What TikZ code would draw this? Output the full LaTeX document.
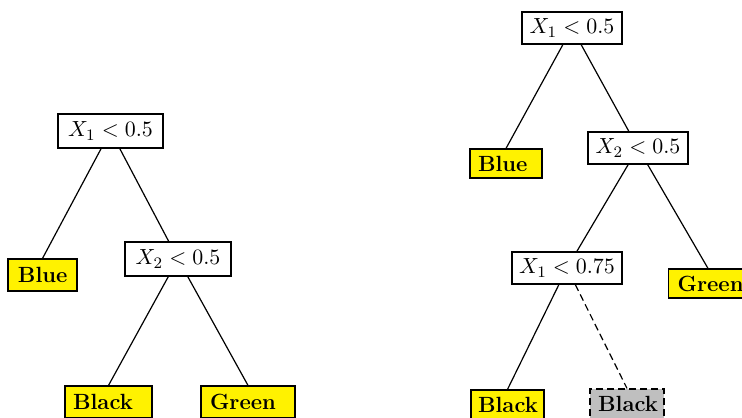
\documentclass[tikz,border=0pt]{standalone}
\usetikzlibrary{calc}
\begin{document}
\begin{tikzpicture}[x=0.5pt,y=-0.5pt,
  every node/.style={font=\fontsize{11}{13}\selectfont},
  split/.style={draw,line width=0.6pt,fill=white,inner xsep=0pt,inner ysep=0pt},
  leaf/.style={draw,line width=0.6pt,fill=yellow,inner ysep=0pt,align=left,font=\fontsize{11}{13}\selectfont\bfseries},
  ghost/.style={leaf,fill=gray!50,dashed,dash pattern=on 3.5pt off 2pt},
  edge/.style={line width=0.6pt}]
\clip (0,0) rectangle (742,417);
\useasboundingbox (0,0) rectangle (742,417);
% left tree
\node[split,minimum width=52.5pt,minimum height=17pt] (L1) at (110.5,131) {$X_1<0.5$};
\node[leaf,inner xsep=5pt,text width=24.5pt,minimum height=16pt] (Lblue) at (42.5,275) {Blue};
\node[split,minimum width=53pt,minimum height=17pt] (L2) at (178,259) {$X_2<0.5$};
\node[leaf,inner xsep=4pt,text width=35.5pt,minimum height=16pt] (Lblack) at (108.5,402) {Black};
\node[leaf,inner xsep=4.5pt,text width=38pt,minimum height=16pt] (Lgreen) at (248,402) {Green};
\draw[edge] (L1) -- (Lblue.north);
\draw[edge] (L1) -- (L2);
\draw[edge] (L2) -- (Lblack.north);
\draw[edge] (L2) -- (Lgreen.north);
% right tree
\node[split,minimum width=50pt,minimum height=16pt] (R1) at (572,28) {$X_1<0.5$};
\node[leaf,inner xsep=4pt,text width=28pt,minimum height=14.5pt] (Rblue) at (506,163.5) {Blue};
\node[split,minimum width=50pt,minimum height=16pt] (R2) at (638,148) {$X_2<0.5$};
\node[split,minimum width=55pt,minimum height=16pt] (R3) at (567,268) {$X_1<0.75$};
\node[leaf,inner xsep=4.5pt,text width=38pt,minimum height=14.5pt,anchor=west] (Rgreen) at (668,283.5) {Green};
\coordinate (Rgtop) at ($(Rgreen.north west)+(40,0)$);
\node[leaf,inner xsep=3.5pt,text width=29.5pt,minimum height=15pt] (Rblack) at (507.5,405) {Black};
\node[ghost,inner xsep=4pt,text width=29pt,minimum height=15pt] (Rgray) at (627,404) {Black};
\draw[edge] (R1) -- (Rblue.north);
\draw[edge] (R1) -- (R2);
\draw[edge] (R2) -- (R3);
\draw[edge] (R2) -- (Rgtop);
\draw[edge] (R3) -- (Rblack.north);
\draw[edge,dashed,dash pattern=on 3.5pt off 2pt] (R3) -- (Rgray.north);
\end{tikzpicture}
\end{document}
